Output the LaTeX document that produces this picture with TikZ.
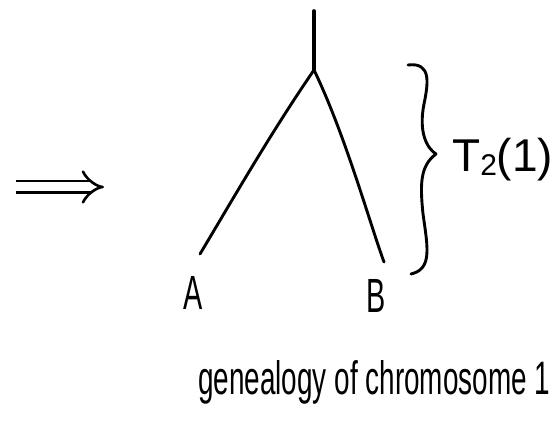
\documentclass[tikz,border=0pt]{standalone}
\usepackage{fontspec}
\setmainfont{Liberation Sans}
\usetikzlibrary{arrows.meta}
\tikzset{
  ink/.style={line width=2.9pt, line cap=round, line join=round, black},
  lbl/.style={inner sep=0pt, font=\fontsize{48}{52}\selectfont},
}
\begin{document}
\begin{tikzpicture}[x=1pt,y=1pt]
\useasboundingbox (0,0) rectangle (556,434);
% implies arrow
\coordinate (arrS) at (16,247);
\coordinate (arrE) at (104,247);
\draw[line width=2.6pt, double distance=9pt, -{Implies[length=10pt]}] (arrS) -- (arrE);
% tree
\coordinate (root) at (314,423);
\coordinate (junc) at (314,364);
\coordinate (leafA) at (200,180);
\coordinate (leafB) at (384,172);
\draw[ink, line width=3.6pt] (root) -- (junc);
\draw[ink] (junc) .. controls (270,300) and (230,230) .. (leafA);
\draw[ink] (junc) .. controls (345,300) and (370,210) .. (leafB);
\node[lbl] (A) at (193,141) {\scalebox{0.6}[1]{A}};
\node[lbl] (B) at (376,138) {\scalebox{0.6}[1]{B}};
% brace
\coordinate (bTop) at (408,369);
\coordinate (bTip) at (436,280);
\coordinate (bBot) at (411,160);
\draw[ink] (bTop) .. controls (432,372) and (428,350) .. (424,330)
  .. controls (418,300) and (428,285) .. (bTip)
  .. controls (420,268) and (420,250) .. (423,220)
  .. controls (428,185) and (432,165) .. (bBot);
\node[lbl, anchor=west, font=\fontsize{46}{50}\selectfont] (T) at (452,274) {T\raisebox{-4pt}{\fontsize{30}{32}\selectfont 2}(1)};
% caption
\node[inner sep=0pt, anchor=base west] (cap) at (198,40) {\resizebox{352pt}{34pt}{genealogy of chromosome 1}};
\end{tikzpicture}
\end{document}
